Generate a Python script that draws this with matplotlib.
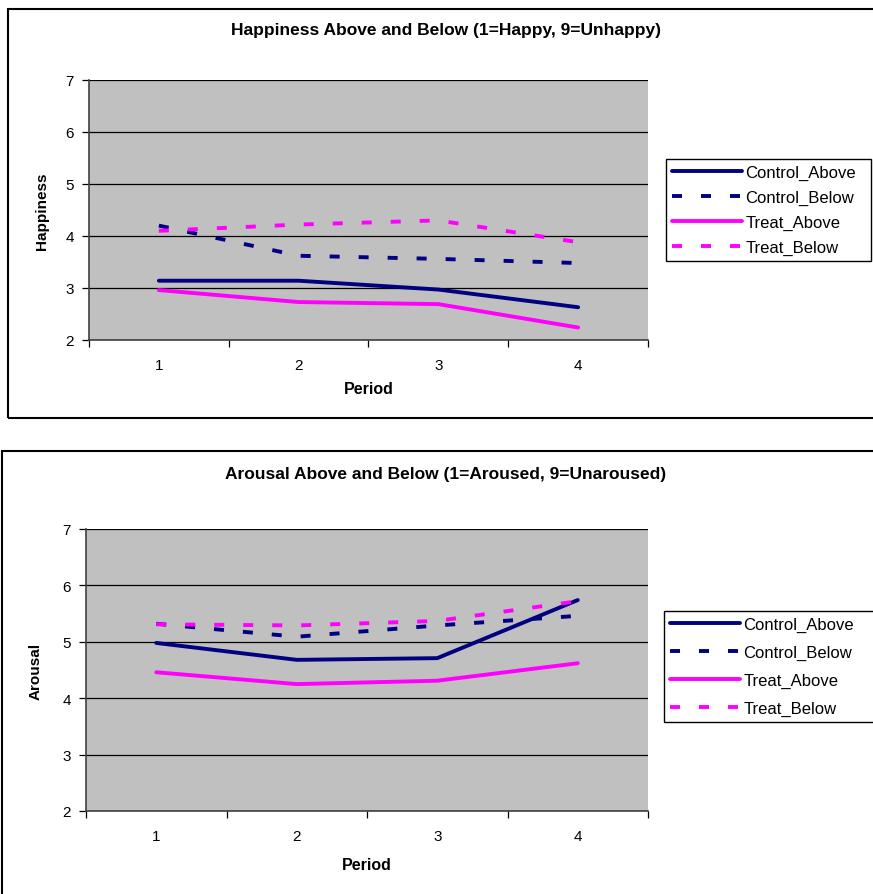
import matplotlib
matplotlib.use('Agg')
import matplotlib.pyplot as plt
from matplotlib.patches import Rectangle

plt.rcParams['font.family'] = ['Liberation Sans', 'DejaVu Sans']

periods = [1, 2, 3, 4]
series_names = ['Control_Above', 'Control_Below', 'Treat_Above', 'Treat_Below']

# 快乐度 (1=Happy, 9=Unhappy)
happy_control_above = [3.14, 3.14, 2.97, 2.63]
happy_control_below = [4.20, 3.62, 3.56, 3.48]
happy_treat_above = [2.96, 2.73, 2.69, 2.24]
happy_treat_below = [4.10, 4.22, 4.30, 3.88]

# 唤醒度 (1=Aroused, 9=Unaroused)
arousal_control_above = [4.98, 4.68, 4.71, 5.74]
arousal_control_below = [5.32, 5.09, 5.29, 5.46]
arousal_treat_above = [4.46, 4.25, 4.31, 4.62]
arousal_treat_below = [5.31, 5.29, 5.37, 5.72]

W, H = 873, 895
fig = plt.figure(figsize=(W / 100, H / 100), dpi=100)

# 外框
fig.patches.append(Rectangle((8 / W, 1 - 419 / H), 2, (419 - 10) / H, transform=fig.transFigure,
                             fill=False, edgecolor='black', linewidth=1.5))
fig.patches.append(Rectangle((2 / W, 1 - 920 / H), 2, (920 - 452) / H, transform=fig.transFigure,
                             fill=False, edgecolor='black', linewidth=1.5))

navy = '#000080'
magenta = '#FF00FF'
lw = 2.8
dash = (10 * 0.72 / lw, 19 * 0.72 / lw)


def draw(box, data, title, title_y, ylabel, ylabel_x, xlabel_y, legend_box, lspace):
    left, top, right, bottom = box
    ax = fig.add_axes([left / W, 1 - bottom / H, (right - left) / W, (bottom - top) / H])
    ax.set_facecolor('#C0C0C0')
    styles = [(navy, None), (navy, dash), (magenta, None), (magenta, dash)]
    for name, vals, (c, d) in zip(series_names, data, styles):
        line, = ax.plot(periods, vals, color=c, linewidth=lw, label=name, solid_capstyle='round')
        if d is not None:
            line.set_dashes(d)
            line.set_dash_capstyle('butt')
    ax.set_xlim(0.5, 4.5)
    ax.set_ylim(2, 7)
    ax.set_yticks([2, 3, 4, 5, 6, 7])
    ax.yaxis.grid(True, color='black', linewidth=0.9)
    ax.set_axisbelow(True)
    ax.set_xticks(periods)
    ax.set_xticks([0.5, 1.5, 2.5, 3.5, 4.5], minor=True)
    ax.tick_params(axis='x', which='major', length=0, pad=13, labelsize=11)
    ax.tick_params(axis='x', which='minor', length=5, width=0.9, direction='out')
    ax.tick_params(axis='y', length=5, width=0.9, direction='out', pad=6, labelsize=11)
    ax.spines['right'].set_visible(False)
    ax.spines['top'].set_visible(False)
    ax.spines['left'].set_color('#404040')
    ax.spines['bottom'].set_color('#404040')
    ax.spines['left'].set_linewidth(1.2)
    ax.spines['bottom'].set_linewidth(1.2)
    fig.text(446 / W, 1 - title_y / H, title, ha='center', va='center',
             fontsize=12.5, fontweight='bold')
    fig.text(ylabel_x / W, 1 - (top + bottom) / 2 / H, ylabel, rotation=90, ha='center',
             va='center', fontsize=11, fontweight='bold')
    fig.text((left + right) / 2 / W, 1 - xlabel_y / H, 'Period', ha='center', va='center',
             fontsize=11.5, fontweight='bold')
    lx0, ly0, lx1, ly1 = legend_box
    leg = ax.legend(loc='upper left', bbox_to_anchor=(lx0 / W, 1 - ly1 / H, (lx1 - lx0) / W, (ly1 - ly0) / H),
                    bbox_transform=fig.transFigure, mode='expand', fontsize=12, frameon=True,
                    fancybox=False, edgecolor='black', framealpha=1, handlelength=4.2,
                    handletextpad=0.2, borderpad=0.35, labelspacing=lspace, borderaxespad=0)
    leg.get_frame().set_linewidth(1.0)
    return ax


draw((89, 81, 648, 341),
     [happy_control_above, happy_control_below, happy_treat_above, happy_treat_below],
     'Happiness Above and Below (1=Happy, 9=Unhappy)', 31, 'Happiness', 42, 389,
     (666, 160, 871, 261), 0.6)

draw((86, 530, 648, 812),
     [arousal_control_above, arousal_control_below, arousal_treat_above, arousal_treat_below],
     'Arousal Above and Below (1=Aroused, 9=Unaroused)', 475, 'Arousal', 36, 866,
     (664, 612, 880, 727), 0.78)

fig.savefig('out.png', dpi=100)
